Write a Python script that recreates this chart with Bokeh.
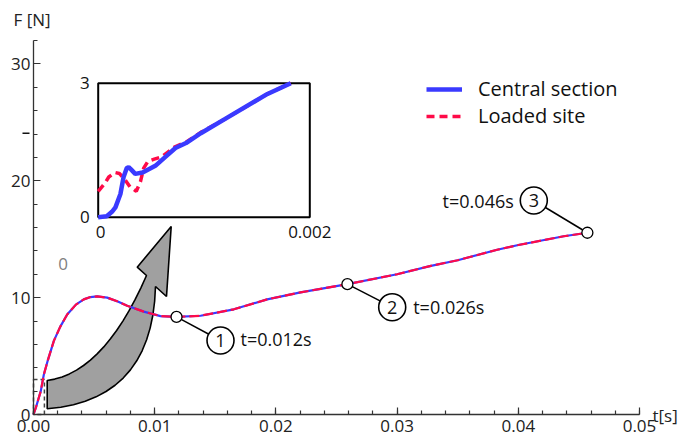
import numpy as np
from bokeh.plotting import figure
from bokeh.models import Range1d, Label, Legend, LegendItem, FixedTicker, NumeralTickFormatter
from bokeh.core.properties import value
from bokeh.embed import file_html
from bokeh.resources import INLINE

# ---------------- data ----------------
t_main = [0.0, 0.0002, 0.0004, 0.0006, 0.00085, 0.0012, 0.00168, 0.0022, 0.00278,
          0.0035, 0.00415, 0.0047, 0.00525, 0.00608, 0.007, 0.00773, 0.0091,
          0.01048, 0.0118, 0.01378, 0.01653, 0.01928, 0.02203, 0.02533, 0.0259,
          0.03, 0.0327, 0.035, 0.03826, 0.04, 0.04375, 0.0457]
f_central = [0.0, 0.6, 1.3, 2.0, 3.4, 4.7, 6.3, 7.5, 8.55,
             9.4, 9.85, 10.05, 10.1, 10.0, 9.65, 9.3, 8.8,
             8.42, 8.35, 8.45, 9.0, 9.85, 10.45, 11.05, 11.15,
             12.0, 12.7, 13.2, 14.1, 14.5, 15.25, 15.55]
f_loaded = [0.0, 0.6, 1.3, 2.0, 3.4, 4.7, 6.3, 7.5, 8.55,
            9.4, 9.85, 10.05, 10.1, 10.0, 9.65, 9.3, 8.8,
            8.42, 8.35, 8.45, 9.0, 9.85, 10.45, 11.05, 11.15,
            12.0, 12.7, 13.2, 14.1, 14.5, 15.25, 15.55]

# inset (zoom of the first 0.002 s)
t_inset_central = [0.0, 0.00008, 0.0001, 0.00013, 0.000163, 0.00021, 0.00024, 0.00027,
                   0.000288, 0.00031, 0.00035, 0.00042, 0.00054, 0.00063, 0.00073,
                   0.00083, 0.00097, 0.0012, 0.0016, 0.00182]
f_inset_central = [0.0, 0.02, 0.06, 0.12, 0.22, 0.52, 0.9, 1.1,
                   1.12, 1.07, 0.97, 1.0, 1.15, 1.34, 1.55,
                   1.66, 1.88, 2.2, 2.76, 3.0]
t_inset_loaded = [0.0, 0.00006, 0.0001, 0.00016, 0.0002, 0.00025, 0.0003, 0.00036,
                  0.0004, 0.00043, 0.00047, 0.00053, 0.0006, 0.00072, 0.00083,
                  0.00097, 0.0012, 0.0016, 0.00182]
f_inset_loaded = [0.58, 0.75, 0.9, 1.0, 0.98, 0.85, 0.68, 0.58,
                  0.8, 1.1, 1.25, 1.3, 1.35, 1.57, 1.68,
                  1.9, 2.2, 2.76, 3.0]

t_marks = [0.0118, 0.0259, 0.0457]
f_marks = [8.35, 11.15, 15.55]
mark_numbers = ["1", "2", "3"]
mark_texts = ["t=0.012s", "t=0.026s", "t=0.046s"]

x_ticks = [0.0, 0.01, 0.02, 0.03, 0.04, 0.05]
x_minor = [round(0.002 * i, 3) for i in range(26)]
y_ticks = [0, 10, 20, 30]
y_minor = list(range(0, 33, 2))

inset_x_labels = ["0", "0.002"]
inset_y_labels = ["0", "3"]

# ---------------- layout constants ----------------
FONT = "Open Sans"
BLUE = "#3a3aff"
RED = "#ff0a48"
W, H = 678, 442
X0_PX, Y0_PX = 33.0, 414.0          # canvas position of the origin
PX_PER_T = 606.0 / 0.05
PX_PER_F = 374.0 / 32.0


def pg(x, y):
    """canvas pixel -> main data coordinates (for decorations only)"""
    return (x - X0_PX) / PX_PER_T, (Y0_PX - y) / PX_PER_F


xr = Range1d(pg(0, 0)[0], pg(W, 0)[0])
yr = Range1d(pg(0, H)[1], pg(0, 0)[1])
p = figure(width=W, height=H, x_range=xr, y_range=yr,
           output_backend="svg", toolbar_location=None,
           min_border_left=0, min_border_right=0, min_border_top=0, min_border_bottom=0)
p.outline_line_color = None
p.xgrid.visible = False
p.ygrid.visible = False
p.background_fill_color = "white"
p.border_fill_color = "white"

# inset ranges mapped onto the frame (inset box in canvas px)
IN_L, IN_R, IN_T, IN_B = 97.7, 309.3, 82.7, 216.7
ix_per_px = 0.002 / (IN_R - IN_L)
iy_per_px = 3.0 / (IN_B - IN_T)
p.extra_x_ranges = {"ix": Range1d(-IN_L * ix_per_px, (W - IN_L) * ix_per_px)}
p.extra_y_ranges = {"iy": Range1d(-(H - IN_B) * iy_per_px, IN_B * iy_per_px)}

for ax in (p.xaxis[0], p.yaxis[0]):
    ax.fixed_location = 0
    ax.axis_line_color = "#333333"
    ax.axis_line_width = 1.3
    ax.major_tick_line_color = "#333333"
    ax.minor_tick_line_color = "#333333"
    ax.major_tick_line_width = 1.2
    ax.minor_tick_line_width = 1.2
    ax.major_tick_in = 7
    ax.major_tick_out = 0
    ax.minor_tick_in = 4
    ax.minor_tick_out = 0
    ax.major_label_text_font = FONT
    ax.major_label_text_font_size = "17px"
    ax.major_label_text_color = "#222222"

p.xaxis.ticker = FixedTicker(ticks=x_ticks, minor_ticks=x_minor)
p.xaxis.formatter = NumeralTickFormatter(format="0.00")
p.xaxis.bounds = (0, 0.05)
p.xaxis.major_label_standoff = 5
p.yaxis.ticker = FixedTicker(ticks=y_ticks, minor_ticks=y_minor)
p.yaxis.bounds = (0, 32)
p.yaxis.major_label_standoff = 3

# small stray dash left of the y axis
d0, d1 = pg(22, 132.7), pg(29, 132.7)
p.segment(x0=[d0[0]], y0=[d0[1]], x1=[d1[0]], y1=[d1[1]], line_color="#111111", line_width=1.4)

# dashed box marking the zoomed region
p.quad(left=0, right=0.0009, bottom=0, top=3, fill_color=None, line_color="#444444",
       line_width=1.5, line_dash="4 3")

# curved grey arrow
def qbez(a, c, b, n=16):
    s = np.linspace(0, 1, n)
    return [((1 - u) ** 2 * a[0] + 2 * (1 - u) * u * c[0] + u ** 2 * b[0],
             (1 - u) ** 2 * a[1] + 2 * (1 - u) * u * c[1] + u ** 2 * b[1]) for u in s]

lower = qbez((46.7, 408.3), (152, 400), (155, 286))
upper = qbez((146, 275), (103.6, 372.5), (46.7, 380))
head = [(166, 296), (170.7, 226), (136.7, 266.7)]
poly = lower + head + upper
ax_pts = [pg(x, y) for x, y in poly]
p.patch([a for a, b in ax_pts], [b for a, b in ax_pts], fill_color="#a0a0a0",
        line_color="black", line_width=1.6)

# main curves
p.line(t_main, f_central, line_color=BLUE, line_width=2.2)
p.line(t_main, f_loaded, line_color=RED, line_width=2.2, line_dash="10 4")

# annotation callouts
circ = [pg(220, 340), pg(391.7, 306.7), pg(533.3, 200)]
circ_t = [c[0] for c in circ]
circ_f = [c[1] for c in circ]
p.segment(x0=t_marks, y0=f_marks, x1=circ_t, y1=circ_f, line_color="black", line_width=1.5)
p.scatter(t_marks, f_marks, size=11, fill_color="white", line_color="black", line_width=1.3)
p.scatter(circ_t, circ_f, size=27, fill_color="white", line_color="black", line_width=1.6)
p.text(circ_t, circ_f, text=mark_numbers, text_align="center", text_baseline="middle",
       text_font=value(FONT), text_font_size="18px", text_color="#111111")
lab_pos = [pg(240, 338), pg(412.7, 306), pg(513.3, 200)]
p.text([lab_pos[0][0], lab_pos[1][0]], [lab_pos[0][1], lab_pos[1][1]], text=mark_texts[:2],
       text_align="left", text_baseline="middle", text_font=value(FONT),
       text_font_size="18px", text_color="#111111")
p.text([lab_pos[2][0]], [lab_pos[2][1]], text=mark_texts[2:],
       text_align="right", text_baseline="middle", text_font=value(FONT),
       text_font_size="18px", text_color="#111111")

# inset
p.quad(left=0, right=0.002, bottom=0, top=3, x_range_name="ix", y_range_name="iy",
       fill_color="white", line_color="black", line_width=2)
r_red = p.line(t_inset_loaded, f_inset_loaded, x_range_name="ix", y_range_name="iy",
               line_color=RED, line_width=3.5, line_dash="8 5")
r_blue = p.line(t_inset_central, f_inset_central, x_range_name="ix", y_range_name="iy",
                line_color=BLUE, line_width=4.5)
for txt, xx, yy, al in [(inset_y_labels[1], -0.00008, 3.0, "right"),
                        (inset_y_labels[0], -0.00008, 0.0, "right"),
                        (inset_x_labels[0], 0.000022, -0.34, "center"),
                        (inset_x_labels[1], 0.002, -0.34, "center")]:
    p.add_layout(Label(x=xx, y=yy, text=txt, x_range_name="ix", y_range_name="iy",
                       text_align=al, text_baseline="middle", text_font=FONT,
                       text_font_size="17px", text_color="#111111"))

# axis titles and stray label
p.add_layout(Label(x=pg(13, 19)[0], y=pg(13, 19)[1], text="F [N]", text_align="left",
                   text_baseline="middle", text_font=FONT, text_font_size="17px",
                   text_color="#222222"))
p.add_layout(Label(x=pg(652, 415)[0], y=pg(652, 415)[1], text="t[s]", text_align="left",
                   text_baseline="middle", text_font=FONT, text_font_size="17px",
                   text_color="#222222"))
p.add_layout(Label(x=pg(62.7, 263.3)[0], y=pg(62.7, 263.3)[1], text="0", text_align="center",
                   text_baseline="middle", text_font=FONT, text_font_size="17px",
                   text_color="#808080"))

legend = Legend(items=[LegendItem(label="Central section", renderers=[r_blue]),
                       LegendItem(label="Loaded site", renderers=[r_red])],
                location=(426, 313), orientation="vertical")
legend.border_line_color = None
legend.background_fill_alpha = 0
legend.padding = 0
legend.margin = 0
legend.spacing = 0
legend.glyph_width = 36
legend.glyph_height = 20
legend.label_height = 20
legend.label_standoff = 16
legend.label_text_font = FONT
legend.label_text_font_size = "20px"
legend.label_text_color = "#111111"
p.add_layout(legend)

open("out.html", "w").write(file_html(p, INLINE))
